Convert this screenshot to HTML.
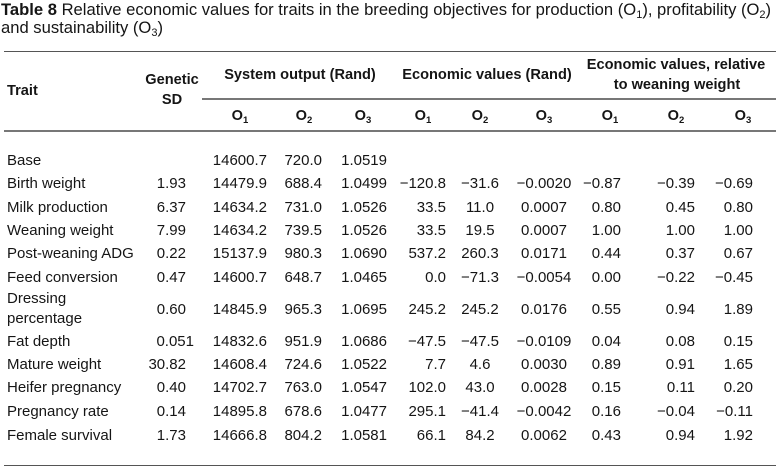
<!DOCTYPE html>
<html><head><meta charset="utf-8">
<style>
html,body{margin:0;padding:0;background:#fff;}
body{width:776px;height:467px;position:relative;overflow:hidden;font-family:"Liberation Sans",Arial,sans-serif;color:#151515;}
.t{position:absolute;left:1px;top:1px;font-size:16.6px;line-height:18px;white-space:nowrap;}
.t sub{font-size:11px;vertical-align:-3px;line-height:0;}
.ln{position:absolute;height:1px;background:#555;}
.h{position:absolute;font-weight:bold;font-size:14.6px;line-height:20px;height:20px;white-space:nowrap;}
.hc{width:240px;text-align:center;}
.h sub{font-size:9.5px;vertical-align:-3px;line-height:0;}
.r{position:absolute;left:0;width:776px;height:20px;line-height:20px;font-size:15px;}
.r span{position:absolute;top:0;white-space:nowrap;}
.c0{left:7px}
.c1{right:590px}
.c1b{right:582px}
.c2{right:509px}
.c3{right:454px}
.c4{right:389px}
.c5{right:330px}
.c6{left:430px;width:100px;text-align:center}
.c7{left:494px;width:100px;text-align:center}
.c8{right:155px}
.c9{right:81px}
.c10{right:23px}
</style></head>
<body>
<div class="t"><b>Table 8</b> Relative economic values for traits in the breeding objectives for production (O<sub>1</sub>), profitability (O<sub>2</sub>)<br>and sustainability (O<sub>3</sub>)</div>

<div class="ln" style="left:4px;width:772px;top:51px;"></div>
<div class="ln" style="left:202px;width:574px;top:98px;background:#777;height:1.5px;"></div>
<div class="ln" style="left:4px;width:772px;top:130px;background:#777;height:1.5px;"></div>
<div class="ln" style="left:4px;width:772px;top:465px;"></div>

<div class="h" style="left:7px;top:81px;">Trait</div>
<div class="h hc" style="left:52px;top:70px;">Genetic</div>
<div class="h hc" style="left:52px;top:90px;">SD</div>
<div class="h hc" style="left:180px;top:65px;">System output (Rand)</div>
<div class="h hc" style="left:367px;top:65px;">Economic values (Rand)</div>
<div class="h hc" style="left:556px;top:55px;">Economic values, relative</div>
<div class="h hc" style="left:557px;top:75px;">to weaning weight</div>

<div class="h hc" style="left:120px;top:106px;">O<sub>1</sub></div>
<div class="h hc" style="left:184px;top:106px;">O<sub>2</sub></div>
<div class="h hc" style="left:243px;top:106px;">O<sub>3</sub></div>
<div class="h hc" style="left:303px;top:106px;">O<sub>1</sub></div>
<div class="h hc" style="left:360px;top:106px;">O<sub>2</sub></div>
<div class="h hc" style="left:424px;top:106px;">O<sub>3</sub></div>
<div class="h hc" style="left:490px;top:106px;">O<sub>1</sub></div>
<div class="h hc" style="left:556px;top:106px;">O<sub>2</sub></div>
<div class="h hc" style="left:623px;top:106px;">O<sub>3</sub></div>

<div class="r" style="top:151px"><span class="c0">Base</span><span class="c2">14600.7</span><span class="c3">720.0</span><span class="c4">1.0519</span></div>
<div class="r" style="top:174px"><span class="c0">Birth weight</span><span class="c1">1.93</span><span class="c2">14479.9</span><span class="c3">688.4</span><span class="c4">1.0499</span><span class="c5">−120.8</span><span class="c6">−31.6</span><span class="c7">−0.0020</span><span class="c8">−0.87</span><span class="c9">−0.39</span><span class="c10">−0.69</span></div>
<div class="r" style="top:198px"><span class="c0">Milk production</span><span class="c1">6.37</span><span class="c2">14634.2</span><span class="c3">731.0</span><span class="c4">1.0526</span><span class="c5">33.5</span><span class="c6">11.0</span><span class="c7">0.0007</span><span class="c8">0.80</span><span class="c9">0.45</span><span class="c10">0.80</span></div>
<div class="r" style="top:221px"><span class="c0">Weaning weight</span><span class="c1">7.99</span><span class="c2">14634.2</span><span class="c3">739.5</span><span class="c4">1.0526</span><span class="c5">33.5</span><span class="c6">19.5</span><span class="c7">0.0007</span><span class="c8">1.00</span><span class="c9">1.00</span><span class="c10">1.00</span></div>
<div class="r" style="top:244px"><span class="c0">Post-weaning ADG</span><span class="c1">0.22</span><span class="c2">15137.9</span><span class="c3">980.3</span><span class="c4">1.0690</span><span class="c5">537.2</span><span class="c6">260.3</span><span class="c7">0.0171</span><span class="c8">0.44</span><span class="c9">0.37</span><span class="c10">0.67</span></div>
<div class="r" style="top:268px"><span class="c0">Feed conversion</span><span class="c1">0.47</span><span class="c2">14600.7</span><span class="c3">648.7</span><span class="c4">1.0465</span><span class="c5">0.0</span><span class="c6">−71.3</span><span class="c7">−0.0054</span><span class="c8">0.00</span><span class="c9">−0.22</span><span class="c10">−0.45</span></div>
<div class="r" style="top:289px;height:42px;line-height:20px;"><span class="c0">Dressing<br>percentage</span></div>
<div class="r" style="top:300px"><span class="c1">0.60</span><span class="c2">14845.9</span><span class="c3">965.3</span><span class="c4">1.0695</span><span class="c5">245.2</span><span class="c6">245.2</span><span class="c7">0.0176</span><span class="c8">0.55</span><span class="c9">0.94</span><span class="c10">1.89</span></div>
<div class="r" style="top:332px"><span class="c0">Fat depth</span><span class="c1b">0.051</span><span class="c2">14832.6</span><span class="c3">951.9</span><span class="c4">1.0686</span><span class="c5">−47.5</span><span class="c6">−47.5</span><span class="c7">−0.0109</span><span class="c8">0.04</span><span class="c9">0.08</span><span class="c10">0.15</span></div>
<div class="r" style="top:355px"><span class="c0">Mature weight</span><span class="c1">30.82</span><span class="c2">14608.4</span><span class="c3">724.6</span><span class="c4">1.0522</span><span class="c5">7.7</span><span class="c6">4.6</span><span class="c7">0.0030</span><span class="c8">0.89</span><span class="c9">0.91</span><span class="c10">1.65</span></div>
<div class="r" style="top:378px"><span class="c0">Heifer pregnancy</span><span class="c1">0.40</span><span class="c2">14702.7</span><span class="c3">763.0</span><span class="c4">1.0547</span><span class="c5">102.0</span><span class="c6">43.0</span><span class="c7">0.0028</span><span class="c8">0.15</span><span class="c9">0.11</span><span class="c10">0.20</span></div>
<div class="r" style="top:402px"><span class="c0">Pregnancy rate</span><span class="c1">0.14</span><span class="c2">14895.8</span><span class="c3">678.6</span><span class="c4">1.0477</span><span class="c5">295.1</span><span class="c6">−41.4</span><span class="c7">−0.0042</span><span class="c8">0.16</span><span class="c9">−0.04</span><span class="c10">−0.11</span></div>
<div class="r" style="top:426px"><span class="c0">Female survival</span><span class="c1">1.73</span><span class="c2">14666.8</span><span class="c3">804.2</span><span class="c4">1.0581</span><span class="c5">66.1</span><span class="c6">84.2</span><span class="c7">0.0062</span><span class="c8">0.43</span><span class="c9">0.94</span><span class="c10">1.92</span></div>
</body></html>
